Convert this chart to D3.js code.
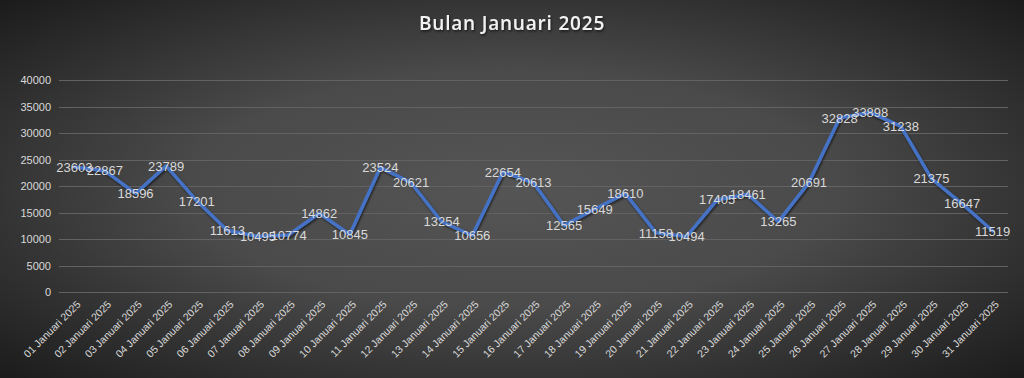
<!DOCTYPE html>
<html>
<head>
<meta charset="utf-8">
<script src="https://cdn.jsdelivr.net/npm/d3@7"></script>
<style>
  html, body { margin: 0; padding: 0; background: #2b2b2b; }
  svg { display: block; }
</style>
</head>
<body>
<svg id="chart"></svg>
<script>
const days = ['01','02','03','04','05','06','07','08','09','10','11','12','13','14','15','16',
  '17','18','19','20','21','22','23','24','25','26','27','28','29','30','31'];
const categories = days.map(d => `${d} Januari 2025`);
const values = [23603, 22867, 18596, 23789, 17201, 11613, 10495, 10774, 14862, 10845,
  23524, 20621, 13254, 10656, 22654, 20613, 12565, 15649, 18610, 11158,
  10494, 17405, 18461, 13265, 20691, 32828, 33898, 31238, 21375, 16647, 11519];
const yTicks = [0, 5000, 10000, 15000, 20000, 25000, 30000, 35000, 40000];
const title = 'Bulan Januari 2025';

const W = 1024, H = 378;
const margin = { top: 80, right: 16, bottom: 86, left: 59 };

const svg = d3.select('#chart').attr('width', W).attr('height', H);

// background gradient
const defs = svg.append('defs');
const grad = defs.append('radialGradient').attr('id', 'bg')
  .attr('cx', '50%').attr('cy', '50%').attr('r', '70%');
grad.append('stop').attr('offset', '0%').attr('stop-color', '#555555');
grad.append('stop').attr('offset', '45%').attr('stop-color', '#4a4a4a');
grad.append('stop').attr('offset', '100%').attr('stop-color', '#1c1c1c');

const shadow = defs.append('filter').attr('id', 'shadow')
  .attr('x', '-20%').attr('y', '-20%').attr('width', '140%').attr('height', '140%');
shadow.append('feDropShadow').attr('dx', 1).attr('dy', 1.5)
  .attr('stdDeviation', 1.2).attr('flood-color', '#000').attr('flood-opacity', 0.6);

svg.append('rect').attr('width', W).attr('height', H).attr('fill', 'url(#bg)');

const x = d3.scaleBand()
  .domain(categories)
  .range([margin.left, W - margin.right]);

const y = d3.scaleLinear()
  .domain([0, 40000])
  .range([H - margin.bottom, margin.top]);

// gridlines
svg.append('g')
  .selectAll('line')
  .data(yTicks)
  .enter()
  .append('line')
  .attr('x1', margin.left)
  .attr('x2', W - margin.right)
  .attr('y1', d => Math.round(y(d)) + 0.5)
  .attr('y2', d => Math.round(y(d)) + 0.5)
  .attr('stroke', '#626262')
  .attr('stroke-width', 1);

// y axis labels
const yAxis = svg.append('g')
  .attr('transform', `translate(${margin.left},0)`)
  .call(d3.axisLeft(y).tickValues(yTicks).tickFormat(d3.format('d')).tickSize(0).tickPadding(8));
yAxis.select('.domain').remove();
yAxis.selectAll('text')
  .attr('fill', '#d9d9d9')
  .style('font-family', 'Liberation Sans, Arial, sans-serif')
  .style('font-size', '11px');

// x axis labels
const xAxis = svg.append('g')
  .attr('transform', `translate(0,${H - margin.bottom})`)
  .call(d3.axisBottom(x).tickSize(0).tickPadding(0));
xAxis.select('.domain').remove();
xAxis.selectAll('text')
  .attr('fill', '#d9d9d9')
  .style('font-family', 'Liberation Sans, Arial, sans-serif')
  .style('font-size', '10.5px')
  .style('text-anchor', 'end')
  .attr('dy', 0)
  .attr('transform', 'translate(7,13) rotate(-45)');

// line
const line = d3.line()
  .x((d, i) => x(categories[i]) + x.bandwidth() / 2)
  .y(d => y(d));

svg.append('path')
  .datum(values)
  .attr('d', line)
  .attr('fill', 'none')
  .attr('stroke', '#4472c4')
  .attr('stroke-width', 3.5)
  .attr('stroke-linejoin', 'round')
  .attr('stroke-linecap', 'round')
  .attr('filter', 'url(#shadow)');

// data labels
svg.append('g')
  .selectAll('text')
  .data(values)
  .enter()
  .append('text')
  .attr('x', (d, i) => x(categories[i]) + x.bandwidth() / 2)
  .attr('y', d => y(d))
  .attr('dy', '0.36em')
  .attr('text-anchor', 'middle')
  .attr('fill', '#d9d9d9')
  .style('font-family', 'Liberation Sans, Arial, sans-serif')
  .style('font-size', '13px')
  .text(d => d);

// title
svg.append('text')
  .attr('x', W / 2)
  .attr('y', 30)
  .attr('text-anchor', 'middle')
  .attr('fill', '#f2f2f2')
  .attr('filter', 'url(#shadow)')
  .style('font-family', 'Open Sans, sans-serif')
  .style('font-size', '19px')
  .style('font-weight', '600')
  .style('letter-spacing', '0.8px')
  .text(title);
</script>
</body>
</html>
